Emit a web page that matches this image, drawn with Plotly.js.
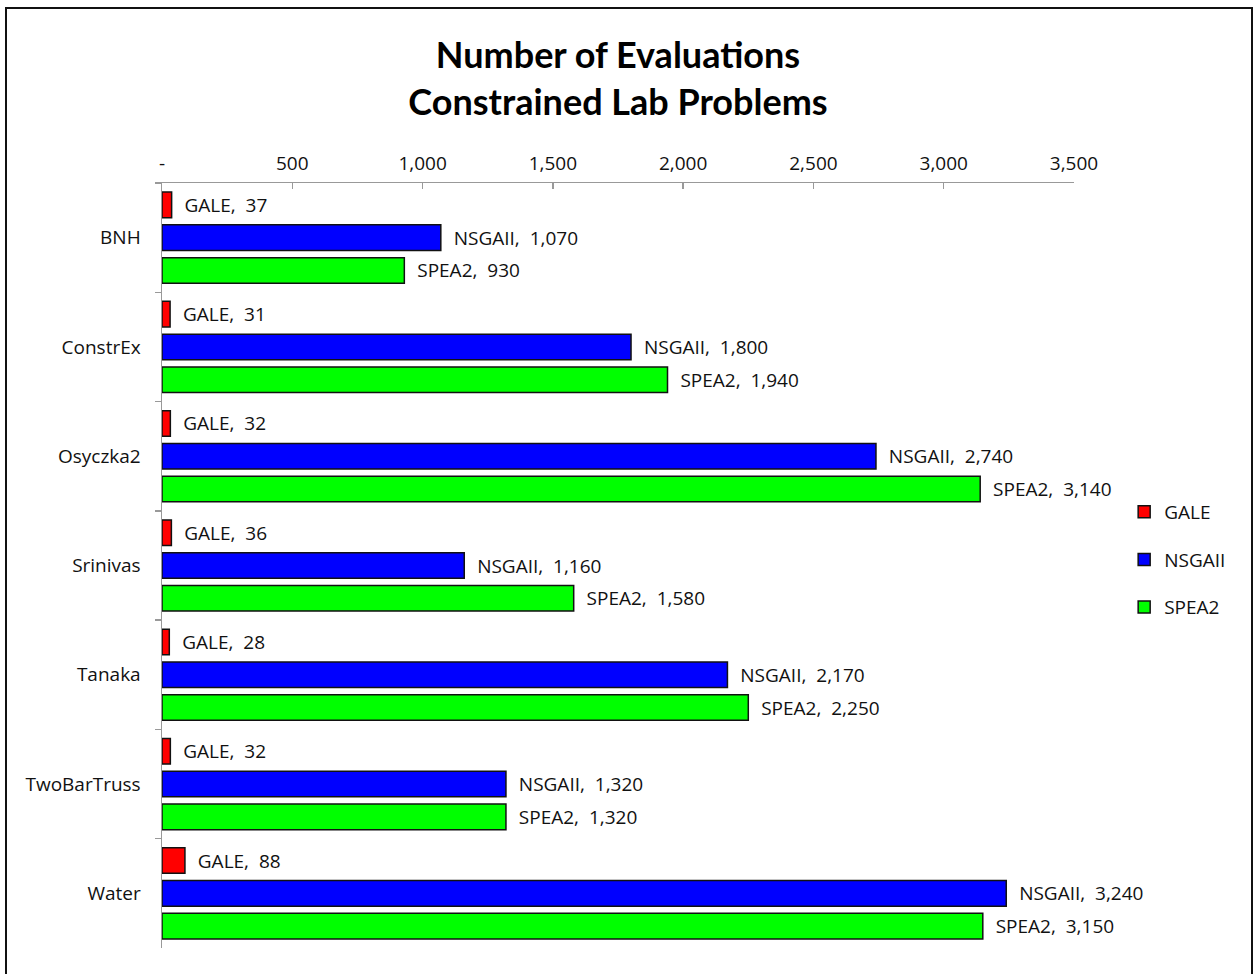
<!DOCTYPE html>
<html>
<head>
<meta charset="utf-8">
<script src="https://cdn.plot.ly/plotly-3.0.1.min.js"></script>
<style>
  html, body { margin: 0; padding: 0; background: #fff; }
  #wrap { position: relative; width: 1256px; height: 974px; overflow: hidden; }
  #chart { width: 1256px; height: 974px; }
  #frame { position: absolute; left: 5px; top: 7px; width: 1244px; height: 1000px;
           border: 2px solid #111; pointer-events: none; }
</style>
</head>
<body>
<div id="wrap">
  <div id="chart"></div>
  <div id="frame"></div>
</div>
<script>
// Problems (top to bottom) and evaluations per algorithm
const problems = ["BNH", "ConstrEx", "Osyczka2", "Srinivas", "Tanaka", "TwoBarTruss", "Water"];
const galeEvals = [37, 31, 32, 36, 28, 32, 88];
const nsgaiiEvals = [1070, 1800, 2740, 1160, 2170, 1320, 3240];
const spea2Evals = [930, 1940, 3140, 1580, 2250, 1320, 3150];

const tickValues = [0, 500, 1000, 1500, 2000, 2500, 3000, 3500];
const tickLabels = ["-", "500", "1,000", "1,500", "2,000", "2,500", "3,000", "3,500"];

const FONT = "'Open Sans', Lato, sans-serif";
const TITLE_FONT = "Lato, 'Open Sans', sans-serif";
const NB = "\u00a0";

function series(name, values, color) {
  return {
    type: "bar",
    orientation: "h",
    name: name,
    legendgroup: name,
    y: problems,
    x: values,
    text: values.map(v => NB + NB + name + "," + NB + NB + v.toLocaleString("en-US")),
    textposition: "outside",
    constraintext: "none",
    cliponaxis: false,
    textfont: { family: FONT, size: 19, color: "#111" },
    marker: { color: color, line: { color: "#111", width: 1.5 } },
    hoverinfo: "x+name"
  };
}

const data = [
  series("GALE", galeEvals, "#ff0000"),
  series("NSGAII", nsgaiiEvals, "#0000ff"),
  series("SPEA2", spea2Evals, "#00ff00")
];

const layout = {
  width: 1256,
  height: 974,
  paper_bgcolor: "#fff",
  plot_bgcolor: "#fff",
  margin: { l: 162, r: 182, t: 183, b: 26 },
  font: { family: FONT, size: 19, color: "#111" },
  title: {
    text: "<b>Number of Evaluations<br>Constrained Lab Problems</b>",
    font: { family: TITLE_FONT, size: 36, color: "#000" },
    x: 0.5, xref: "paper", xanchor: "center",
    y: 0.93, yref: "container", yanchor: "top"
  },
  barmode: "group",
  bargap: 0.1,
  bargroupgap: 0.22,
  showlegend: true,
  legend: {
    x: 1.055, xanchor: "left",
    y: 0.595, yanchor: "top",
    traceorder: "grouped",
    tracegroupgap: 20,
    font: { family: FONT, size: 19, color: "#111" },
    bgcolor: "rgba(0,0,0,0)"
  },
  xaxis: {
    side: "top",
    range: [0, 3500],
    tickmode: "array",
    tickvals: tickValues,
    ticktext: tickLabels,
    ticks: "inside",
    ticklen: 6,
    tickcolor: "#999",
    tickwidth: 1.5,
    showline: true,
    linecolor: "#999",
    linewidth: 1.5,
    showgrid: false,
    zeroline: false,
    ticklabelstandoff: 4,
    tickfont: { family: FONT, size: 19, color: "#111" },
    fixedrange: true
  },
  yaxis: {
    type: "category",
    autorange: "reversed",
    tickson: "boundaries",
    ticks: "outside",
    ticklen: 6,
    tickcolor: "#999",
    tickwidth: 1.5,
    showline: true,
    linecolor: "#999",
    linewidth: 1.5,
    showgrid: false,
    zeroline: false,
    ticklabelstandoff: 16,
    tickfont: { family: FONT, size: 19, color: "#111" },
    fixedrange: true
  }
};

Plotly.newPlot("chart", data, layout, { displayModeBar: false, staticPlot: true });
</script>
</body>
</html>
